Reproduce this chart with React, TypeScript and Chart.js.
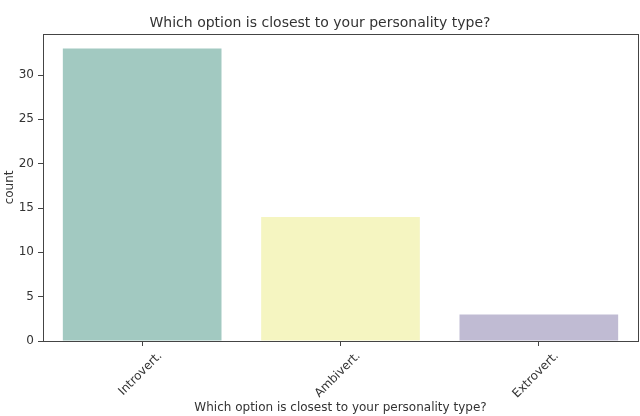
import { useEffect, useRef } from 'react'
import Chart from 'chart.js/auto'

const categories = ['Introvert.', 'Ambivert.', 'Extrovert.']
const counts = [33, 14, 3]
const barColors = ['#a2c9c1', '#f5f5c1', '#c0bbd3']
const yTicks = [0, 5, 10, 15, 20, 25, 30]

const FONT = "'DejaVu Sans', sans-serif"
const INK = '#333333'

// matplotlib draws a full box around the axes
const frame = {
  id: 'frame',
  afterDraw(chart: any) {
    const { ctx, chartArea: a } = chart
    ctx.save()
    ctx.strokeStyle = '#444444'
    ctx.lineWidth = 1
    ctx.strokeRect(Math.round(a.left) + 0.5, Math.round(a.top) + 0.5, Math.round(a.right - a.left), Math.round(a.bottom - a.top))
    ctx.restore()
  }
}

export default function App(){
  const ref = useRef<HTMLCanvasElement|null>(null)
  useEffect(()=>{
    if(!ref.current) return
    const ctx = ref.current.getContext('2d')!
    const chart = new Chart(ctx, {
      type: 'bar',
      data: {
        labels: categories,
        datasets: [{ label:'count', data: counts, backgroundColor: barColors, borderWidth: 0, barPercentage: 0.8, categoryPercentage: 1 }]
      },
      options: {
        animation: false,
        responsive: true,
        maintainAspectRatio: false,
        layout: { padding: { top: 15, right: 2, left: 2, bottom: 0 } },
        plugins: {
          legend: { display: false },
          tooltip: { enabled: false },
          title: {
            display: true,
            text: 'Which option is closest to your personality type?',
            color: INK,
            font: { family: FONT, size: 14, weight: 'normal' },
            padding: { top: 0, bottom: 2 }
          }
        },
        scales: {
          x: {
            offset: true,
            afterFit: (axis: any) => { axis.height = 75 },
            grid: { display: true, offset: false, drawOnChartArea: false, drawTicks: true, tickLength: 5, color: '#444444' },
            border: { display: false },
            // matplotlib centres the rotated label on the tick
            ticks: { color: INK, font: { family: FONT, size: 12 }, minRotation: 45, maxRotation: 45, padding: 3, labelOffset: 18 },
            title: {
              display: true,
              text: 'Which option is closest to your personality type?',
              color: INK,
              font: { family: FONT, size: 12 },
              padding: { top: 0, bottom: 1 }
            }
          },
          y: {
            min: 0,
            max: 34.65,
            afterFit: (axis: any) => { axis.width = 41 },
            afterBuildTicks: (axis: any) => { axis.ticks = yTicks.map(v => ({ value: v })) },
            grid: { display: true, drawOnChartArea: false, drawTicks: true, tickLength: 5, color: '#444444' },
            border: { display: false },
            ticks: { color: INK, font: { family: FONT, size: 12 }, padding: 4 },
            title: {
              display: true,
              text: 'count',
              color: INK,
              font: { family: FONT, size: 12 },
              padding: { top: 1, bottom: 2 }
            }
          }
        }
      },
      plugins: [frame]
    })
    return ()=> chart.destroy()
  }, [])
  return <div style={{ position:'fixed', left:0, top:0, width:640, height:416, background:'#fff' }}><canvas ref={ref}/></div>
}
